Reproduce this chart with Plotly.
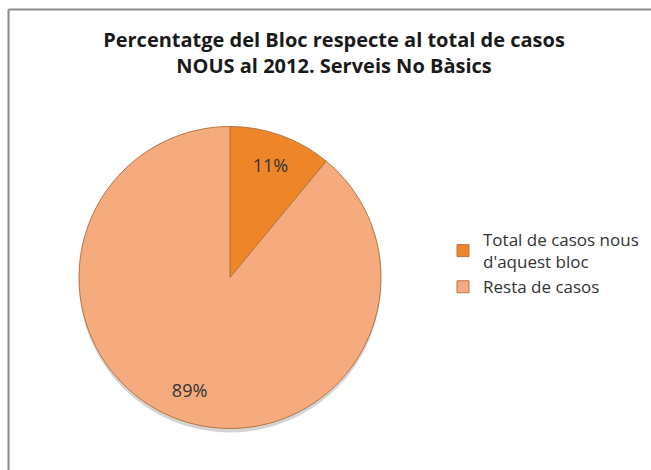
import plotly.graph_objects as go

labels = ["Total de casos nous<br>d'aquest bloc", "Resta de casos"]
values = [11, 89]
colors = ["#EE8629", "#F5AB7E"]

W, H = 651, 470
FONT = "Open Sans, Lato, sans-serif"

cx, cy, R = 230, 277.5, 151
dom_x = [(cx - R) / W, (cx + R) / W]
dom_y = [1 - (cy + R) / H, 1 - (cy - R) / H]
sh = 4
dom_y_shadow = [1 - (cy + R + sh) / H, 1 - (cy - R + sh) / H]

fig = go.Figure()
# soft shadow behind the pie
fig.add_trace(go.Pie(
    values=[1], labels=["shadow"], sort=False, showlegend=False,
    marker=dict(colors=["rgba(60,60,60,0.22)"], line=dict(width=0)),
    textinfo="none", hoverinfo="skip",
    domain=dict(x=dom_x, y=dom_y_shadow),
))
# main pie
fig.add_trace(go.Pie(
    labels=labels,
    values=values,
    sort=False,
    direction="clockwise",
    rotation=0,
    marker=dict(colors=colors, line=dict(color="#B8743F", width=1)),
    textinfo="none",
    domain=dict(x=dom_x, y=dom_y),
    hoverinfo="label+percent",
))
# transparent ring overlay to place percentage labels nearer the rim
fig.add_trace(go.Pie(
    labels=labels,
    values=values,
    sort=False,
    direction="clockwise",
    rotation=0,
    hole=0.58,
    showlegend=False,
    marker=dict(colors=["rgba(0,0,0,0)", "rgba(0,0,0,0)"], line=dict(width=0)),
    texttemplate="%{percent:.0%}",
    textposition="inside",
    insidetextorientation="horizontal",
    insidetextfont=dict(family=FONT, size=18, color="#333333"),
    domain=dict(x=dom_x, y=dom_y),
    hoverinfo="skip",
))

fig.update_layout(
    width=W,
    height=H,
    margin=dict(l=0, r=0, t=0, b=0),
    paper_bgcolor="white",
    plot_bgcolor="white",
    title=dict(
        text="<b>Percentatge del Bloc respecte al total de casos<br>NOUS al 2012. Serveis No Bàsics</b>",
        x=334 / W,
        xanchor="center",
        y=1 - 47 / H,
        yanchor="top",
        font=dict(family=FONT, size=20, color="#1a1a1a"),
    ),
    legend=dict(
        x=443 / W,
        xanchor="left",
        y=1 - 222 / H,
        yanchor="top",
        font=dict(family=FONT, size=17, color="#333333"),
        itemwidth=30,
        bgcolor="rgba(0,0,0,0)",
    ),
    shapes=[
        dict(type="line", xref="paper", yref="paper", x0=8.5 / W, x1=1.01, y0=1 - 9.5 / H, y1=1 - 9.5 / H,
             line=dict(color="#8C8C8C", width=2)),
        dict(type="line", xref="paper", yref="paper", x0=8.5 / W, x1=8.5 / W, y0=1 - 9.5 / H, y1=-0.01,
             line=dict(color="#8C8C8C", width=2)),
    ],
)

fig.write_html(
    "out.html",
    config={"displayModeBar": False},
    post_script="document.body.style.margin='0';document.body.style.overflow='hidden';",
)
